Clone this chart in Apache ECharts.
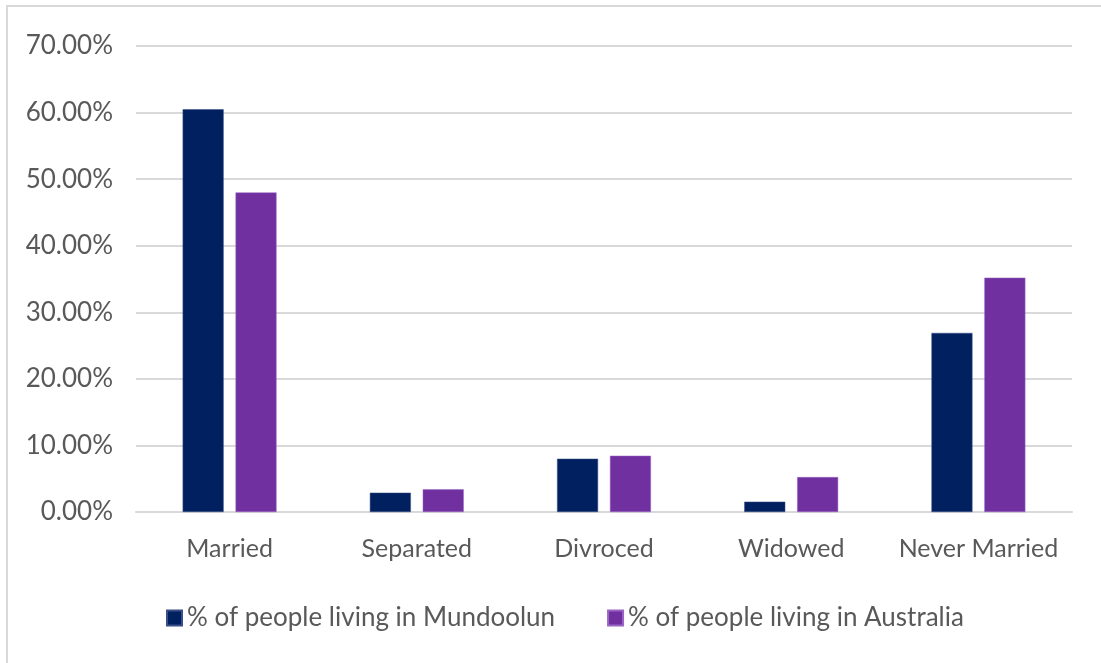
<!DOCTYPE html>
<html>
<head>
<meta charset="utf-8">
<script src="https://cdn.jsdelivr.net/npm/echarts@6/dist/echarts.min.js"></script>
<style>
  html, body { margin: 0; padding: 0; background: #fff; }
  #chart { width: 1101px; height: 663px; }
</style>
</head>
<body>
<div id="chart"></div>
<script>
  // categories on the x axis
  var categories = ['Married', 'Separated', 'Divroced', 'Widowed', 'Never Married'];
  // share of people (%) by marital status
  var mundoolun = [60.5, 2.9, 8.0, 1.55, 26.9];
  var australia = [48.0, 3.4, 8.45, 5.25, 35.2];
  var seriesNames = ['% of people living in Mundoolun', '% of people living in Australia'];

  var font = 'Lato';
  var myChart = echarts.init(document.getElementById('chart'));

  myChart.setOption({
    animation: false,
    // light frame round the chart, like the office chart area
    graphic: [{
      type: 'rect',
      shape: { x: 7, y: 6, width: 1200, height: 800 },
      style: { fill: 'none', stroke: '#d9d9d9', lineWidth: 2 },
      silent: true
    }],
    grid: {
      left: 136,
      right: 29,
      top: 46,
      bottom: 151
    },
    legend: {
      bottom: 27,
      left: 161,
      itemWidth: 15,
      itemHeight: 15,
      itemGap: 52,
      icon: 'rect',
      textStyle: { fontFamily: font, fontSize: 26, color: '#595959' },
      data: seriesNames
    },
    xAxis: {
      type: 'category',
      data: categories,
      axisLine: { lineStyle: { color: '#d9d9d9', width: 2 } },
      axisTick: { show: false },
      axisLabel: { fontFamily: font, fontSize: 25, color: '#595959', margin: 24, interval: 0 }
    },
    yAxis: {
      type: 'value',
      min: 0,
      max: 70,
      interval: 10,
      axisLine: { show: false },
      axisTick: { show: false },
      axisLabel: {
        fontFamily: font, fontSize: 26, color: '#595959', margin: 23,
        formatter: function (v) { return v.toFixed(2) + '%'; }
      },
      splitLine: { lineStyle: { color: '#d9d9d9', width: 2 } }
    },
    series: [{
      name: seriesNames[0],
      type: 'bar',
      data: mundoolun,
      barWidth: 41,
      barGap: '29%',
      itemStyle: { color: '#002060', borderColor: '#3a4f86', borderWidth: 0.5 }
    }, {
      name: seriesNames[1],
      type: 'bar',
      data: australia,
      barWidth: 41,
      barGap: '29%',
      itemStyle: { color: '#7030a0', borderColor: '#9a66c4', borderWidth: 0.5 }
    }]
  });
</script>
</body>
</html>
